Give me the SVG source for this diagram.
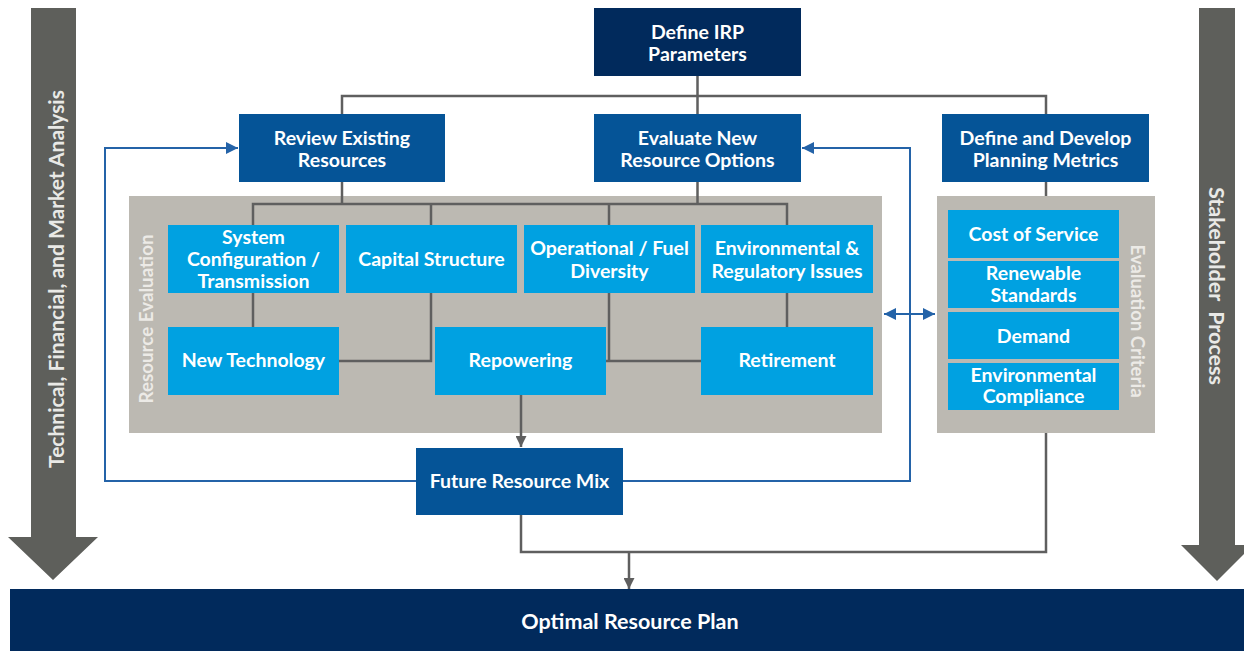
<svg xmlns="http://www.w3.org/2000/svg" width="1244" height="651" viewBox="0 0 1244 651">
<defs>
<style>
.t{font-family:Lato,"Liberation Sans",sans-serif;font-weight:bold;fill:#fff;text-anchor:middle;font-size:19.5px}
.big{font-size:21.5px}
.navy{fill:#012a5c}
.mid{fill:#055497}
.lt{fill:#00a1e1}
.panel{fill:#bcb9b2}
.garrow{fill:#5e5f5b}
.gl{fill:none;stroke:#5f5f5f;stroke-width:2.5}
.bl{fill:none;stroke:#2463a8;stroke-width:2}
.side{font-family:Lato,"Liberation Sans",sans-serif;font-weight:bold;text-anchor:middle;dominant-baseline:central}
</style>
<marker id="ga" viewBox="0 0 10 10" refX="10" refY="5" markerWidth="4.4" markerHeight="4.4" orient="auto" markerUnits="strokeWidth"><path d="M0,0L10,5L0,10z" fill="#5f5f5f"/></marker>
<marker id="ba" viewBox="0 0 10 10" refX="10" refY="5" markerWidth="6" markerHeight="6" orient="auto" markerUnits="strokeWidth"><path d="M0,0L10,5L0,10z" fill="#2463a8"/></marker>
<marker id="bs" viewBox="0 0 10 10" refX="0" refY="5" markerWidth="6" markerHeight="6" orient="auto" markerUnits="strokeWidth"><path d="M10,0L0,5L10,10z" fill="#2463a8"/></marker>
</defs>

<g id="side-arrows">
<polygon class="garrow" points="31,8 76,8 76,537 98,537 53,580 8,537 31,537"/>
<text class="side" fill="#e9e9e6" font-size="21" transform="translate(55,279) rotate(-90)">Technical, Financial, and Market Analysis</text>
<polygon class="garrow" points="1199,8 1235,8 1235,545 1253,545 1217,581 1181,545 1199,545"/>
<text class="side" fill="#e9e9e6" font-size="21.5" transform="translate(1217,286) rotate(90)" xml:space="preserve">Stakeholder  Process</text>
</g>

<g id="resource-evaluation-panel">
<rect class="panel" x="129" y="196" width="753" height="237"/>
<text class="side" fill="#eceae6" font-size="18.8" transform="translate(145,319) rotate(-90)">Resource Evaluation</text>
</g>
<g id="evaluation-criteria-panel">
<rect class="panel" x="937" y="196" width="218" height="237"/>
<text class="side" fill="#eceae6" font-size="18.6" transform="translate(1138,321) rotate(90)">Evaluation Criteria</text>
</g>

<g id="connectors">
<path class="gl" d="M697.5,76V114M342,114V96H1046V114"/>
<path class="gl" d="M342,182V204M697.5,182V204M253,225V204H787V225M431,204V225M609,204V225"/>
<path class="gl" d="M1046,182V196"/>
<path class="gl" d="M253,293V327M431,293V361H339M787,293V327M609,293V361M606,361H701"/>
<path class="gl" d="M521,395V447" marker-end="url(#ga)"/>
<path class="gl" d="M521,515V552H1046V433"/>
<path class="gl" d="M629,552V589" marker-end="url(#ga)"/>
<path class="bl" d="M416,481H105V148H238" marker-end="url(#ba)"/>
<path class="bl" d="M623,481H910V148H802" marker-end="url(#ba)"/>
<path class="bl" d="M884,314H935" marker-start="url(#bs)" marker-end="url(#ba)"/>
</g>

<g id="define-irp">
<rect class="navy" x="594" y="8" width="207" height="68"/>
<text class="t" x="697.5" y="39">Define IRP</text>
<text class="t" x="697.5" y="61">Parameters</text>
</g>
<g id="review-existing">
<rect class="mid" x="239" y="114" width="206" height="68"/>
<text class="t" x="342" y="145">Review Existing</text>
<text class="t" x="342" y="167">Resources</text>
</g>
<g id="evaluate-new">
<rect class="mid" x="594" y="114" width="207" height="68"/>
<text class="t" x="697.5" y="145">Evaluate New</text>
<text class="t" x="697.5" y="167">Resource Options</text>
</g>
<g id="define-develop">
<rect class="mid" x="942" y="114" width="207" height="68"/>
<text class="t" x="1045.5" y="145">Define and Develop</text>
<text class="t" x="1045.5" y="167">Planning Metrics</text>
</g>

<g id="system-config">
<rect class="lt" x="168" y="225" width="171" height="68"/>
<text class="t" x="253.5" y="244">System</text>
<text class="t" x="253.5" y="266">Configuration /</text>
<text class="t" x="253.5" y="288">Transmission</text>
</g>
<g id="capital-structure">
<rect class="lt" x="346" y="225" width="171" height="68"/>
<text class="t" x="431.5" y="266">Capital Structure</text>
</g>
<g id="operational">
<rect class="lt" x="524" y="225" width="171" height="68"/>
<text class="t" x="609.5" y="255">Operational / Fuel</text>
<text class="t" x="609.5" y="278">Diversity</text>
</g>
<g id="environmental-regulatory">
<rect class="lt" x="701" y="225" width="172" height="68"/>
<text class="t" x="787" y="255">Environmental &amp;</text>
<text class="t" x="787" y="278">Regulatory Issues</text>
</g>
<g id="new-technology">
<rect class="lt" x="168" y="327" width="171" height="68"/>
<text class="t" x="253.5" y="367">New Technology</text>
</g>
<g id="repowering">
<rect class="lt" x="435" y="327" width="171" height="68"/>
<text class="t" x="520.5" y="367">Repowering</text>
</g>
<g id="retirement">
<rect class="lt" x="701" y="327" width="172" height="68"/>
<text class="t" x="787" y="367">Retirement</text>
</g>

<g id="cost-of-service">
<rect class="lt" x="948" y="210" width="171" height="48"/>
<text class="t" x="1033.5" y="241">Cost of Service</text>
</g>
<g id="renewable-standards">
<rect class="lt" x="948" y="261" width="171" height="47"/>
<text class="t" x="1033.5" y="280">Renewable</text>
<text class="t" x="1033.5" y="302">Standards</text>
</g>
<g id="demand">
<rect class="lt" x="948" y="312" width="171" height="47"/>
<text class="t" x="1033.5" y="343">Demand</text>
</g>
<g id="environmental-compliance">
<rect class="lt" x="948" y="363" width="171" height="47"/>
<text class="t" x="1033.5" y="382">Environmental</text>
<text class="t" x="1033.5" y="403">Compliance</text>
</g>

<g id="future-resource-mix">
<rect class="mid" x="416" y="448" width="207" height="67"/>
<text class="t" x="519.5" y="488">Future Resource Mix</text>
</g>

<g id="optimal-resource-plan">
<rect class="navy" x="10" y="589" width="1234" height="62"/>
<text class="t big" x="630" y="629">Optimal Resource Plan</text>
</g>
</svg>
